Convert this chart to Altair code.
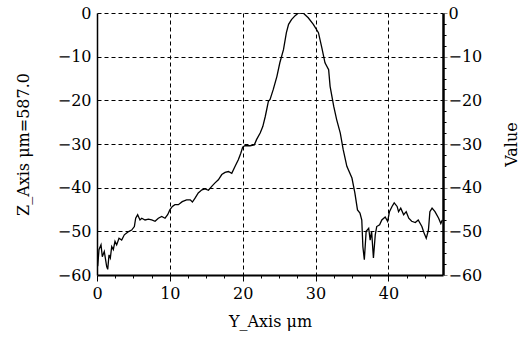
import altair as alt
import pandas as pd

# Profile trace (x in µm, z in µm)
xs = [0, 0.1, 0.27, 0.55, 0.73, 1.0, 1.33, 1.47, 1.65, 1.83,
      2.02, 2.24, 2.47, 2.7, 3.02, 3.39, 3.75, 4.07, 4.4, 4.76,
      5.13, 5.31, 5.58, 5.9, 6.14, 6.6, 7.05, 7.51, 7.97, 8.42,
      8.88, 9.34, 9.7, 10.0, 10.35, 10.7, 11.17, 11.7, 12.3, 12.8,
      13.1, 13.46, 13.9, 14.4, 14.84, 15.3, 15.75, 16.2, 16.66, 17.13,
      17.58, 18.04, 18.5, 18.96, 19.4, 19.74, 20.0, 20.3, 21.0, 21.6,
      21.9, 22.4, 22.76, 23.1, 23.3, 23.53, 23.76, 24.2, 24.7, 25.1,
      25.6, 26.0, 26.3, 26.7, 27.2, 27.65, 28.3, 29.0, 29.7, 30.4,
      30.87, 31.3, 31.8, 32.0, 32.5, 32.9, 33.4, 33.8, 34.3, 35.0,
      35.4, 35.76, 36.1, 36.35, 36.5, 36.7, 36.95, 37.3, 37.5, 37.7,
      37.95, 38.2, 38.4, 38.8, 39.1, 39.56, 39.9, 40.15, 40.5, 40.8,
      41.2, 41.4, 41.7, 42.1, 42.45, 42.8, 43.2, 43.7, 44.1, 44.6,
      44.9, 45.2, 45.5, 45.7, 46.0, 46.4, 46.9, 47.2, 47.4]
zs = [-55.8, -58, -54.2, -53.1, -55.8, -54.6, -58.1, -58.7, -55.4, -56.1,
      -53.5, -54.2, -52.3, -53.1, -51.6, -52, -50.8, -50.4, -50, -49.7,
      -48.9, -47, -46.2, -47.4, -47, -47.4, -47.2, -47.4, -47.7, -47,
      -46.6, -47, -46.2, -45.1, -44.3, -43.9, -43.9, -43.2, -42.8, -42.8,
      -43.3, -42.4, -41.2, -40.5, -40.3, -40.6, -39.7, -38.9, -38.2, -37,
      -36.5, -36.3, -36.7, -35.1, -33.6, -32.1, -30.7, -30.4, -30.4, -30.2,
      -29, -27.5, -26, -23.7, -22.1, -20.2, -19.8, -17.5, -14.5, -11.4,
      -8.4, -4.5, -2.6, -1.5, -0.6, 0, 0, -1.1, -2.6, -4.5,
      -8, -11.4, -13, -16.8, -21.4, -24.4, -27.5, -31.3, -35.1, -37.8,
      -41.2, -45.1, -45.8, -47.4, -53.5, -56.5, -50, -49.3, -52, -50,
      -56.1, -50.8, -48.9, -48.5, -47.4, -46.7, -47.7, -45.5, -44.3, -43.5,
      -44.3, -45.5, -44.7, -46.2, -45.5, -47, -47.7, -48, -47.4, -48.9,
      -50.4, -51.6, -49.7, -45.5, -44.7, -45.5, -47, -48.2, -47.4]

x_ticks = [0, 2.5, 5, 7.5, 10, 12.5, 15, 17.5, 20, 22.5, 25, 27.5, 30,
           32.5, 35, 37.5, 40, 42.5, 45]
y_major = [-60, -50, -40, -30, -20, -10, 0]
y_ticks = [-60, -57.5, -55, -52.5, -50, -47.5, -45, -42.5, -40, -37.5, -35,
           -32.5, -30, -27.5, -25, -22.5, -20, -17.5, -15, -12.5, -10, -7.5,
           -5, -2.5, 0]

df = pd.DataFrame({"x": xs, "z": zs})

FONT = "DejaVu Serif"
FS = 16
major = "datum.value % 10 === 0"
minus_label = "replace(format(datum.value, 'd'), '-', '\u2212')"

x_scale = alt.Scale(domain=[0, 47.5], nice=False, zero=False)
y_scale = alt.Scale(domain=[-60, 0], nice=False, zero=False)

x_axis = alt.Axis(
    values=x_ticks,
    labelExpr=f"{major} ? datum.label : ''",
    labelOverlap=False, labelFlush=False,
    labelPadding=4,
    tickColor="black", tickWidth=1,
    tickSize={"condition": {"test": major, "value": 6}, "value": 3},
    domainColor="black", domainWidth=2,
    grid=True, gridColor="black", gridWidth=1, gridDash=[4, 3],
    gridOpacity={"condition": {"test": f"{major} && datum.value > 0", "value": 1}, "value": 0},
    title="Y_Axis μm", titlePadding=12,
)

left_axis = alt.Axis(
    values=y_major, orient="left",
    labelExpr=minus_label,
    labelPadding=6,
    labelFlush=False, labelOverlap=False,
    ticks=False,
    domainColor="black", domainWidth=1.5,
    grid=True, gridColor="black", gridWidth=1, gridDash=[4, 3],
    gridOpacity={"condition": {"test": "datum.value > -60", "value": 1}, "value": 0},
    title="Z_Axis μm=587.0", titlePadding=26,
)

right_axis = alt.Axis(
    values=y_ticks, orient="right",
    labelExpr=f"{major} ? {minus_label} : ''",
    labelOverlap=False, labelFlush=False,
    labelPadding=1,
    tickColor={"condition": {"test": major, "value": "#888888"}, "value": "black"},
    tickWidth=1,
    tickSize={"condition": {"test": major, "value": 4}, "value": 3},
    domainColor="black", domainWidth=2.5,
    grid=False,
    title="Value", titlePadding=38, titleAngle=270,
)

line = alt.Chart(df).mark_line(color="black", strokeWidth=1.3, clip=True).encode(
    x=alt.X("x:Q", scale=x_scale, axis=x_axis),
    y=alt.Y("z:Q", scale=y_scale, axis=left_axis),
)

ghost = alt.Chart(df).mark_line(opacity=0).encode(
    x=alt.X("x:Q", scale=x_scale, axis=x_axis),
    y=alt.Y("z:Q", scale=y_scale, axis=right_axis),
)

chart = alt.layer(line, ghost).resolve_scale(y="independent").properties(
    width=346, height=262,
    padding={"left": 97, "top": 13, "right": 89, "bottom": 64},
    autosize=alt.AutoSizeParams(type="none"),
    background="white",
).configure_view(stroke=None).configure_axis(
    labelFont=FONT, labelFontSize=FS, labelColor="black",
    titleFont=FONT, titleFontSize=FS, titleFontWeight="normal", titleColor="black",
)

chart.save("out.html", embed_options={"renderer": "svg", "actions": False})
